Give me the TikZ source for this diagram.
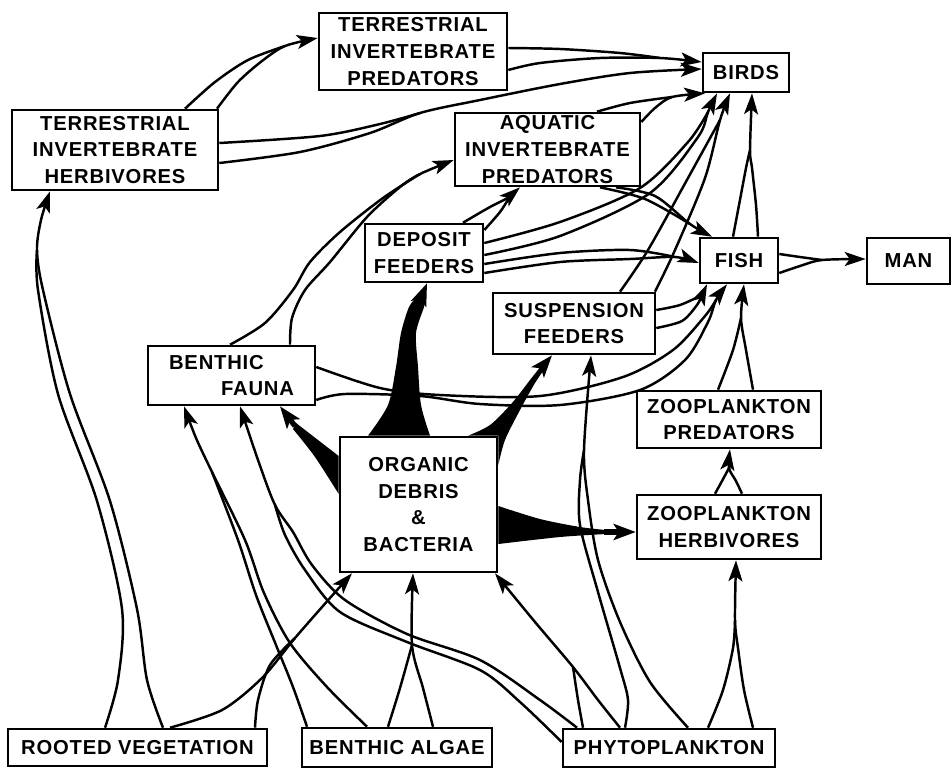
\documentclass[tikz,border=0pt]{standalone}
\usepackage{fontspec}
\setmainfont{Liberation Sans}[LetterSpace=4]
\usepackage{tikz}
\usetikzlibrary{arrows.meta, backgrounds}

\begin{document}
\begin{tikzpicture}[
  x=0.02cm, y=-0.02cm,
  box/.style={rectangle, draw, line width=1.5pt, fill=white, inner sep=0pt, align=center, font=\fontsize{11.5}{15.3}\selectfont\bfseries},
  prong/.style={line width=1.4pt, line join=round},
  flow/.style={line width=1.4pt, line join=round, -{Stealth[length=4.2mm, width=2.8mm, inset=1mm]}},
  mass/.style={fill=black},
  shaft/.style={line width=3pt, -{Stealth[length=4.4mm, width=3.2mm, inset=1mm]}}
]
\useasboundingbox (0,0) rectangle (952,768);

% ===== Consumers =====
\node[box, minimum width=3.76cm, minimum height=1.54cm] (tip)   at (413,51.5)  {TERRESTRIAL\\INVERTEBRATE\\PREDATORS};
\node[box, minimum width=4.12cm, minimum height=1.60cm] (tih)   at (115,150)   {TERRESTRIAL\\INVERTEBRATE\\HERBIVORES};
\node[box, minimum width=1.72cm, minimum height=0.78cm] (birds) at (746,72.5)  {BIRDS};
\node[box, minimum width=3.70cm, minimum height=1.46cm] (aip)   at (547.5,149.5) {AQUATIC\\INVERTEBRATE\\PREDATORS};
\node[box, minimum width=2.36cm, minimum height=1.16cm] (dep)   at (424,253)   {DEPOSIT\\FEEDERS};
\node[box, minimum width=1.56cm, minimum height=0.90cm] (fish)  at (739,260.5) {FISH};
\node[box, minimum width=1.66cm, minimum height=0.92cm] (man)   at (908.5,261) {MAN};
\node[box, minimum width=3.24cm, minimum height=1.22cm] (susp)  at (574,323.5) {SUSPENSION\\FEEDERS};
\node[box, minimum width=3.34cm, minimum height=1.18cm, align=left] (bf) at (231.5,375.5) {BENTHIC\\\hspace*{1.04cm}FAUNA};
\node[box, minimum width=3.14cm, minimum height=2.70cm] (odb)   at (418.5,504.5) {ORGANIC\\DEBRIS\\\&\\BACTERIA};
\node[box, minimum width=3.68cm, minimum height=1.14cm] (zp)    at (729,419.5) {ZOOPLANKTON\\PREDATORS};
\node[box, minimum width=3.68cm, minimum height=1.28cm] (zh)    at (729,527)   {ZOOPLANKTON\\HERBIVORES};

% ===== Producers =====
\node[box, minimum width=5.18cm, minimum height=0.74cm] (rv)  at (137.5,747.5) {ROOTED VEGETATION};
\node[box, minimum width=3.80cm, minimum height=0.78cm] (ba)  at (397,747.5)   {BENTHIC ALGAE};
\node[box, minimum width=4.24cm, minimum height=0.76cm] (phy) at (669,748)     {PHYTOPLANKTON};

\begin{scope}[on background layer]
% ===== Heavy flows out of the debris pool =====
\fill[mass] plot[smooth] coordinates {(368,0 |- odb.north) (388,405) (396,367) (401,333) (409,307) (417,297)}
  -- plot[smooth] coordinates {(426,297) (424,307) (416,333) (418,367) (421,405) (430,0 |- odb.north)} -- cycle;
\draw[shaft] (421,298) -- (427,0 |- dep.south);
\fill[mass] plot[smooth] coordinates {(468,0 |- odb.north) (490,425) (512,403) (530,380) (541,366)}
  -- plot[smooth] coordinates {(546,367) (535,383) (520,410) (505,440) (odb.east |- 0,465)} -- (odb.north east) -- cycle;
\draw[shaft] (543,366) -- (552,0 |- susp.south);
\fill[mass] plot[smooth] coordinates {(odb.west |- 0,456) (318,440) (296,423)}
  -- plot[smooth] coordinates {(293,429) (315,457) (odb.west |- 0,494)} -- cycle;
\draw[shaft] (295,426) -- (280,0 |- bf.south);
\fill[mass] plot[smooth] coordinates {(odb.east |- 0,506) (540,519) (580,527) (606,530)}
  -- plot[smooth] coordinates {(606,534) (560,537) (odb.east |- 0,544)} -- cycle;
\draw[shaft] (604,532) -- (zh.west |- 0,532);

% ===== Rooted vegetation =====
\draw[prong] plot[smooth] coordinates {(105,0 |- rv.north) (118,680) (122,609) (97,501) (58,394) (38,290) (37,250)};
\draw[flow] plot[smooth] coordinates {(163,0 |- rv.north) (147,680) (137,609) (110,501) (70,394) (43,290) (37,250) (41,220) (50,0 |- tih.south)};
\draw[prong] plot[smooth] coordinates {(255,0 |- rv.north) (258,700) (270,665) (295,638)};
\draw[flow] plot[smooth] coordinates {(170,0 |- rv.north) (222,710) (262,678) (295,638) (330,598) (352,0 |- odb.south)};

% ===== Benthic algae =====
\draw[prong] plot[smooth] coordinates {(307,0 |- ba.north) (293,687) (276,645) (256,595) (238,540) (212,472)};
\draw[flow] plot[smooth] coordinates {(367,0 |- ba.north) (327,687) (290,643) (264,593) (245,540) (212,472) (196,438) (184,0 |- bf.south)};
\draw[prong] plot[smooth] coordinates {(388,0 |- ba.north) (400,688) (412,645)};
\draw[flow] plot[smooth] coordinates {(433,0 |- ba.north) (423,688) (412,645) (413,0 |- odb.south)};

% ===== Phytoplankton =====
\draw[prong] plot[smooth] coordinates {(phy.west |- 0,742) (520,702) (480,670) (407,642) (340,612) (305,570) (285,535) (275,505)};
\draw[flow] plot[smooth] coordinates {(577,0 |- phy.north) (540,700) (480,660) (407,634) (345,600) (312,565) (293,532) (275,505) (258,460) (240,0 |- bf.south)};
\draw[prong] plot[smooth] coordinates {(583,0 |- phy.north) (578,700) (573,667)};
\draw[flow] plot[smooth] coordinates {(620,0 |- phy.north) (598,700) (573,667) (535,622) (495,0 |- odb.south)};
\draw[prong] plot[smooth] coordinates {(625,0 |- phy.north) (628,700) (620,668) (598,592) (580,525) (580,480) (584,450)};
\draw[flow] plot[smooth] coordinates {(688,0 |- phy.north) (650,682) (620,622) (598,560) (588,500) (584,450) (591,0 |- susp.south)};
\draw[prong] plot[smooth] coordinates {(708,0 |- phy.north) (723,690) (733,648) (735,620)};
\draw[flow] plot[smooth] coordinates {(753,0 |- phy.north) (744,690) (738,648) (735,620) (736,0 |- zh.south)};

% ===== Zooplankton =====
\draw[prong] plot[smooth] coordinates {(715,0 |- zh.north) (722,481) (729,468)};
\draw[flow] plot[smooth] coordinates {(742,0 |- zh.north) (736,481) (729,468) (730,0 |- zp.south)};
\draw[prong] plot[smooth] coordinates {(718,0 |- zp.north) (733,350) (741,318)};
\draw[flow] plot[smooth] coordinates {(753,0 |- zp.north) (746,350) (741,318) (744,0 |- fish.south)};

% ===== Benthic fauna =====
\draw[prong] plot[smooth] coordinates {(230,0 |- bf.north) (265,323) (293,290) (310,262) (340,232) (383,198) (420,174)};
\draw[flow] plot[smooth] coordinates {(290,0 |- bf.north) (292,318) (305,290) (330,262) (367,217) (400,187) (420,174) (aip.west |- 0,160)};
\draw[prong] plot[smooth] coordinates {(bf.east |- 0,367) (380,388) (440,395) (540,396) (623,377) (673,350) (705,316) (716,300)};
\draw[flow] plot[smooth] coordinates {(bf.east |- 0,400) (345,394) (420,396) (480,404) (560,405) (640,390) (685,360) (708,322) (716,300) (727,0 |- fish.south)};

% ===== Feeders =====
\draw[prong] plot[smooth] coordinates {(463,0 |- dep.north) (490,207) (510,197)};
\draw[flow] plot[smooth] coordinates {(dep.east |- 0,230) (500,212) (510,197) (520,0 |- aip.south)};
\draw[prong] plot[smooth] coordinates {(dep.east |- 0,243) (560,222) (640,188) (688,142) (708,112)};
\draw[flow] plot[smooth] coordinates {(dep.east |- 0,255) (560,236) (650,193) (698,137) (708,112) (717,0 |- birds.south)};
\draw[prong] plot[smooth] coordinates {(dep.east |- 0,264) (560,253) (630,250) (675,257)};
\draw[flow] plot[smooth] coordinates {(dep.east |- 0,273) (560,262) (630,259) (675,257) (fish.west |- 0,263)};
\draw[prong] plot[smooth] coordinates {(620,0 |- susp.north) (648,250) (688,178) (720,120)};
\draw[flow] plot[smooth] coordinates {(655,0 |- susp.north) (675,250) (705,178) (720,120) (730,0 |- birds.south)};
\draw[prong] plot[smooth] coordinates {(susp.east |- 0,310) (680,305) (702,295)};
\draw[flow] plot[smooth] coordinates {(susp.east |- 0,328) (682,321) (697,305) (702,295) (707,0 |- fish.south)};

% ===== Predators and top consumers =====
\draw[prong] plot[smooth] coordinates {(185,0 |- tih.north) (215,82) (248,60) (285,46)};
\draw[flow] plot[smooth] coordinates {(217,0 |- tih.north) (238,82) (262,61) (285,46) (tip.west |- 0,38)};
\draw[prong] plot[smooth] coordinates {(tih.east |- 0,143) (320,136) (380,124) (420,113)};
\draw[flow] plot[smooth] coordinates {(tih.east |- 0,163) (300,152) (370,133) (420,113) (480,100) (560,84) (630,73) (birds.west |- 0,69)};
\draw[prong] plot[smooth] coordinates {(tip.east |- 0,48) (560,49) (620,53) (660,58)};
\draw[flow] plot[smooth] coordinates {(tip.east |- 0,70) (540,63) (600,58) (660,58) (birds.west |- 0,62)};
\draw[prong] plot[smooth] coordinates {(597,0 |- aip.north) (630,103) (672,97)};
\draw[flow] plot[smooth] coordinates {(aip.east |- 0,122) (655,108) (672,97) (705,0 |- birds.south)};
\draw[prong] plot[smooth] coordinates {(600,0 |- aip.south) (645,199) (690,224)};
\draw[flow] plot[smooth] coordinates {(616,0 |- aip.south) (655,196) (690,224) (712,0 |- fish.north)};
\draw[prong] plot[smooth] coordinates {(733,0 |- fish.north) (739,205) (746,168) (750,150)};
\draw[flow] plot[smooth] coordinates {(758,0 |- fish.north) (756,205) (752,168) (750,150) (752,0 |- birds.south)};
\draw[prong] plot[smooth] coordinates {(fish.east |- 0,254) (800,257) (822,260)};
\draw[flow] plot[smooth] coordinates {(fish.east |- 0,273) (800,266) (822,260) (man.west |- 0,259)};
\end{scope}

\end{tikzpicture}
\end{document}
